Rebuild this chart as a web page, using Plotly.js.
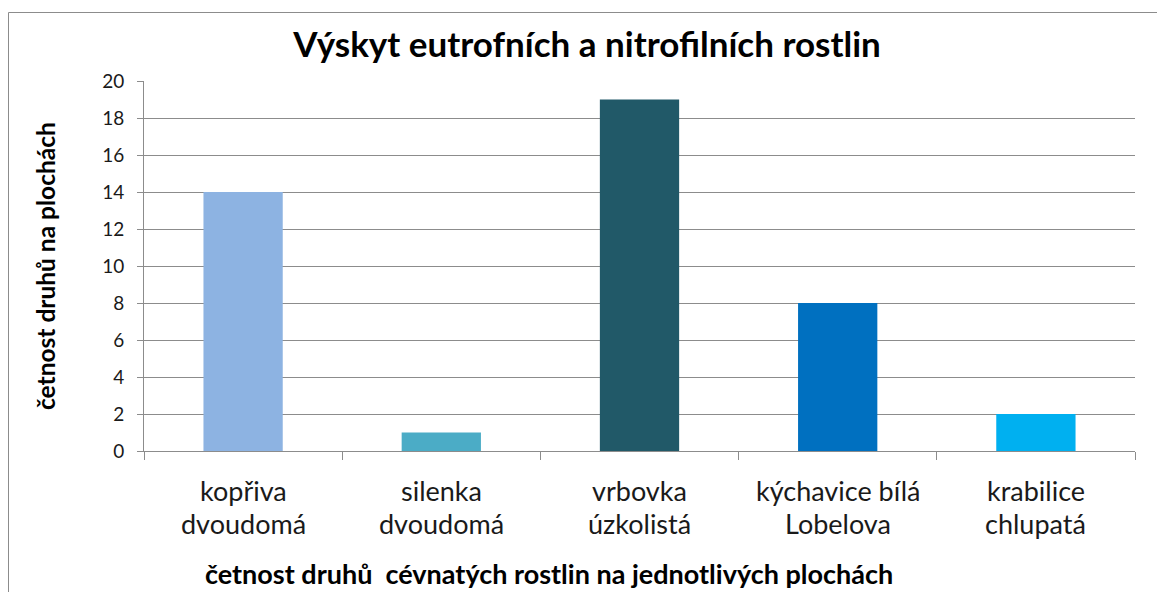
<!DOCTYPE html>
<html>
<head>
<meta charset="utf-8">
<script src="https://cdn.plot.ly/plotly-3.0.1.min.js"></script>
<style>
html,body{margin:0;padding:0;background:#fff;}
#chart{width:1157px;height:592px;}
</style>
</head>
<body>
<div id="chart"></div>
<script>
const categories = ["kopřiva dvoudomá","silenka dvoudomá","vrbovka úzkolistá","kýchavice bílá Lobelova","krabilice chlupatá"];
const labelLine1 = ["kopřiva","silenka","vrbovka","kýchavice bílá","krabilice"];
const labelLine2 = ["dvoudomá","dvoudomá","úzkolistá","Lobelova","chlupatá"];
const values = [14, 1, 19, 8, 2];
const colors = ["#8DB3E2","#4BACC6","#215968","#0070C0","#00B0F0"];
const yTickVals = [0,2,4,6,8,10,12,14,16,18,20];

const FONT = "Lato, 'Open Sans', sans-serif";
const L = 144, R = 22, T = 81, B = 141, W = 1157, H = 592;
const pw = W - L - R, ph = H - T - B;
const px2x = p => (p - L) / pw;
const py2y = p => (H - B - p) / ph;

const annotations = [];
categories.forEach((c, i) => {
  annotations.push({x: c, xref: 'x', y: 0, yref: 'paper', yanchor: 'middle', xanchor: 'center',
    yshift: -39, text: labelLine1[i], showarrow: false, font: {family: FONT, size: 27, color: '#1a1a1a'}});
  annotations.push({x: c, xref: 'x', y: 0, yref: 'paper', yanchor: 'middle', xanchor: 'center',
    yshift: -72, text: labelLine2[i], showarrow: false, font: {family: FONT, size: 27, color: '#1a1a1a'}});
});
annotations.push({x: px2x(549), xref: 'paper', y: 0, yref: 'paper', yanchor: 'middle', xanchor: 'center',
  yshift: -122, text: '<b>četnost druhů  cévnatých rostlin na jednotlivých plochách</b>', showarrow: false,
  font: {family: FONT, size: 27, color: '#000'}});
annotations.push({x: px2x(45), xref: 'paper', y: 0.5, yref: 'paper', yanchor: 'middle', xanchor: 'center',
  textangle: -90, text: '<b>četnost druhů na plochách</b>', showarrow: false,
  font: {family: FONT, size: 24.5, color: '#000'}});

const trace = {
  type: 'bar', x: categories, y: values,
  marker: {color: colors, line: {width: 0}},
  hoverinfo: 'x+y'
};

const layout = {
  width: W, height: H,
  margin: {l: L, r: R, t: T, b: B, pad: 0},
  paper_bgcolor: '#fff', plot_bgcolor: '#fff',
  showlegend: false,
  bargap: 0.6,
  title: {text: '<b>Výskyt eutrofních a nitrofilních rostlin</b>', x: 587 / W, xanchor: 'center',
    y: 1 - 45 / H, yanchor: 'middle', yref: 'container', xref: 'container',
    font: {family: FONT, size: 35, color: '#000'}},
  xaxis: {type: 'category', tickson: 'boundaries', ticks: 'outside', ticklen: 8, tickcolor: '#8c8c8c',
    tickwidth: 1, showticklabels: false, showline: true, linecolor: '#8c8c8c', linewidth: 1,
    showgrid: false, zeroline: false, fixedrange: true},
  yaxis: {range: [0, 20], tickvals: yTickVals, ticktext: yTickVals.map(String), ticks: 'outside', ticklen: 6,
    tickcolor: '#8c8c8c', showline: true, linecolor: '#8c8c8c', linewidth: 1,
    showgrid: true, gridcolor: '#8c8c8c', gridwidth: 1, zeroline: false, ticklabelstandoff: 9,
    tickfont: {family: FONT, size: 19, color: '#1a1a1a'}, fixedrange: true},
  annotations: annotations,
  shapes: [{type: 'rect', xref: 'paper', yref: 'paper', x0: px2x(8.5), x1: px2x(1200), y0: py2y(12.5), y1: py2y(700),
    line: {color: '#8c8c8c', width: 1}, fillcolor: 'rgba(0,0,0,0)', layer: 'below'}]
};

Plotly.newPlot('chart', [trace], layout, {displayModeBar: false, staticPlot: true});
</script>
</body>
</html>
